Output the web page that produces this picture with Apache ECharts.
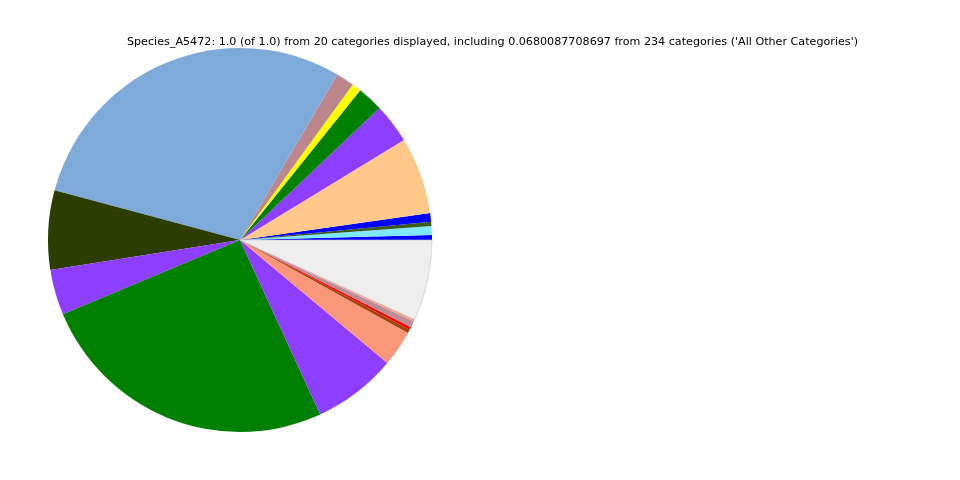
<!DOCTYPE html>
<html>
<head>
<meta charset="utf-8">
<script src="https://cdn.jsdelivr.net/npm/echarts@6/dist/echarts.min.js"></script>
<style>html,body{margin:0;padding:0;background:#fff;}#c{width:960px;height:480px;}</style>
</head>
<body>
<div id="c"></div>
<script>
var titleText = "Species_A5472: 1.0 (of 1.0) from 20 categories displayed, including 0.0680087708697 from 234 categories ('All Other Categories')";
var categories = ["Cat 1","Cat 2","Cat 3","Cat 4","Cat 5","Cat 6","Cat 7","Cat 8","Cat 9","Cat 10",
  "Cat 11","Cat 12","Cat 13","Cat 14","Cat 15","Cat 16","Cat 17","Cat 18","Cat 19","All Other Categories"];
var values = [0.0042,0.0074,0.0036,0.0072,0.0648,0.0334,0.0217,0.0078,0.0153,0.2930,
  0.0666,0.0383,0.2555,0.0706,0.0303,0.0030,0.0025,0.0053,0.0017,0.0680];
var colors = ["#0000ff","#7fe8fa","#3b5a1a","#0000ff","#fdc88a","#8e3eff","#008000","#ffff00","#bc868c","#7eaad9",
  "#2d3d00","#8e3eff","#008000","#8e3eff","#f9977b","#a0440c","#ff0000","#bc8c99","#f4a08a","#eeeeee"];

var data = categories.map(function(n,i){
  var d = {name:n, value:values[i], itemStyle:{color:colors[i]}};
  if (i === categories.length-1) { d.itemStyle.borderColor = '#c8c8c8'; d.itemStyle.borderWidth = 0.6; }
  return d;
});
var chart = echarts.init(document.getElementById('c'), null, {renderer:'canvas'});
chart.setOption({
  animation:false,
  backgroundColor:'#ffffff',
  title:{text:titleText, left:487.5, top:32, textAlign:'center',
    textStyle:{fontFamily:'DejaVu Sans', fontSize:11.15, fontWeight:'normal', color:'#000'}},
  series:[{
    type:'pie', center:[240,240], radius:[0,192], startAngle:0, clockwise:false,
    avoidLabelOverlap:false, minAngle:0, label:{show:false}, labelLine:{show:false},
    emphasis:{disabled:true}, itemStyle:{borderWidth:0},
    data:data
  }]
});
</script>
</body>
</html>
